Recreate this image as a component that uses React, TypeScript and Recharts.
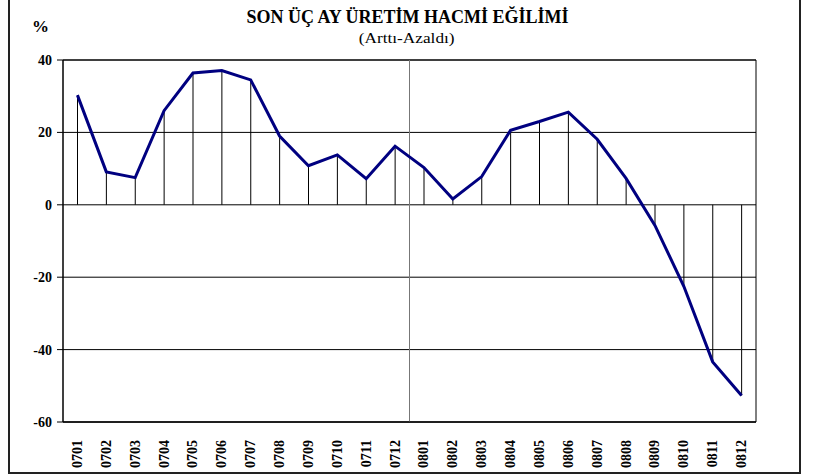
import { Bar, CartesianGrid, ComposedChart, Line, ReferenceArea, ReferenceLine, XAxis, YAxis } from 'recharts'

const periods = ['0701', '0702', '0703', '0704', '0705', '0706', '0707', '0708', '0709', '0710', '0711', '0712', '0801', '0802', '0803', '0804', '0805', '0806', '0807', '0808', '0809', '0810', '0811', '0812']
const trend = [30.3, 9.1, 7.5, 26.0, 36.4, 37.1, 34.5, 19.0, 10.8, 13.8, 7.2, 16.2, 10.3, 1.6, 7.8, 20.6, 23.0, 25.6, 18.1, 7.3, -5.7, -22.5, -43.4, -52.7]
const yTicks = [-60, -40, -20, 0, 20, 40]

const data = periods.map((p, i) => ({ x: i + 1, label: p, value: trend[i] }))
const xTicks = data.map(d => d.x)

const FONT = '"Liberation Serif", "Times New Roman", Times, serif'
const LINE_COLOR = '#000080'

function PeriodTick({ x, y, payload }: any) {
  return (
    <text x={x} y={y + 10} transform={`rotate(-90, ${x}, ${y + 10})`} textAnchor="end" dominantBaseline="central" fontFamily={FONT} fontWeight="bold" fontSize={14} fill="#000">
      {periods[payload.value - 1]}
    </text>
  )
}

export default function App() {
  return (
    <div style={{ position: 'absolute', left: 0, top: 0, width: 817, height: 476, background: '#fff', fontFamily: FONT, overflow: 'hidden' }}>
      <div style={{ position: 'absolute', left: 8, top: -4, width: 789, height: 474, border: '2px solid #222' }} />
      <div style={{ position: 'absolute', left: 0, width: 817, top: 7, textAlign: 'center', fontWeight: 'bold', fontSize: 18 }}>
        <span style={{ position: 'relative', left: -1 }}>SON ÜÇ AY ÜRETİM HACMİ EĞİLİMİ</span>
      </div>
      <div style={{ position: 'absolute', left: 0, width: 817, top: 30, textAlign: 'center', fontSize: 15 }}>
        <span style={{ position: 'relative', left: -2, display: 'inline-block', transform: 'scaleX(1.15)' }}>(Arttı-Azaldı)</span>
      </div>
      <div style={{ position: 'absolute', left: 32, top: 17, fontWeight: 'bold', fontSize: 17 }}>%</div>
      <div style={{ position: 'absolute', left: 0, top: 0 }}>
        <ComposedChart width={817} height={476} data={data} margin={{ top: 60, right: 61, left: 0, bottom: 0 }}>
          <CartesianGrid vertical={false} stroke="#000" strokeWidth={1} />
          <XAxis
            type="number"
            dataKey="x"
            domain={[0.5, 24.5]}
            ticks={xTicks}
            interval={0}
            height={54}
            tickLine={false}
            axisLine={{ stroke: '#000' }}
            tick={<PeriodTick />}
          />
          <YAxis
            domain={[-60, 40]}
            ticks={yTicks}
            width={63}
            tickSize={6}
            tickMargin={5}
            tickLine={{ stroke: '#000' }}
            axisLine={{ stroke: '#000' }}
            tick={{ fontFamily: FONT, fontWeight: 'bold', fontSize: 14, fill: '#000' }}
          />
          <ReferenceArea x1={0.5} x2={24.5} y1={-60} y2={40} fill="none" stroke="#000" strokeWidth={1} />
          <ReferenceLine x={12.5} stroke="#777" strokeWidth={1} />
          <Bar dataKey="value" barSize={1} fill="#000" isAnimationActive={false} />
          <Line type="linear" dataKey="value" stroke={LINE_COLOR} strokeWidth={3} dot={false} activeDot={false} isAnimationActive={false} />
        </ComposedChart>
      </div>
    </div>
  )
}
